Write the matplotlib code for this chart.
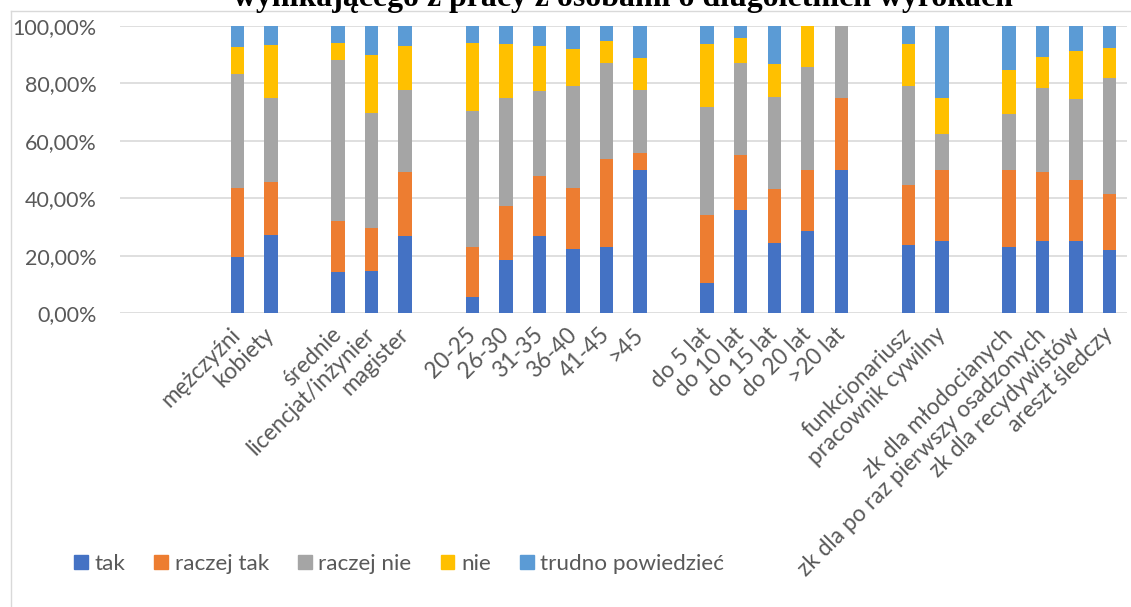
import numpy as np
import matplotlib.pyplot as plt
from matplotlib.lines import Line2D
from matplotlib.patches import Patch

plt.rcParams['font.family'] = ['Lato', 'DejaVu Sans']

# categories, grouped (one empty slot between groups, 3 empty slots before)
labels = ['mężczyźni', 'kobiety',
          'średnie', 'licencjat/inżynier', 'magister',
          '20-25', '26-30', '31-35', '36-40', '41-45', '>45',
          'do 5 lat', 'do 10 lat', 'do 15 lat', 'do 20 lat', '>20 lat',
          'funkcjonariusz', 'pracownik cywilny',
          'zk dla młodocianych', 'zk dla po raz pierwszy osadzonych',
          'zk dla recydywistów', 'areszt śledczy']
group_sizes = [2, 3, 6, 5, 2, 4]

series_names = ['tak', 'raczej tak', 'raczej nie', 'nie', 'trudno powiedzieć']
tak = [19.5, 27.3, 14.5, 14.8, 27.0, 5.6, 18.5, 27.0, 22.3, 22.9, 50.0,
       10.6, 36.0, 24.3, 28.6, 50.0, 23.7, 25.0, 23.1, 25.0, 25.0, 21.9]
raczej_tak = [24.0, 18.2, 17.5, 15.0, 22.0, 17.6, 18.9, 20.6, 21.2, 30.8, 5.6,
              23.6, 19.1, 18.9, 21.4, 25.0, 20.8, 25.0, 26.9, 24.2, 21.2, 19.5]
raczej_nie = [39.6, 29.5, 56.1, 39.9, 28.5, 47.2, 37.5, 29.6, 35.4, 33.2, 22.2,
              37.4, 31.9, 31.9, 35.7, 25.0, 34.6, 12.5, 19.2, 29.0, 28.4, 40.3]
nie = [9.5, 18.2, 5.9, 20.1, 15.3, 23.6, 18.6, 15.8, 13.0, 7.9, 11.1,
       22.0, 8.6, 11.7, 14.3, 0.0, 14.4, 12.5, 15.4, 10.9, 16.7, 10.4]
trudno = [7.4, 6.8, 6.0, 10.2, 7.2, 6.0, 6.5, 7.0, 8.1, 5.2, 11.1,
          6.4, 4.4, 13.2, 0.0, 0.0, 6.5, 25.0, 15.4, 10.9, 8.7, 7.9]
colors = ['#4472C4', '#ED7D31', '#A5A5A5', '#FFC000', '#5B9BD5']

title = 'wynikającego z pracy z osobami o długoletnich wyrokach'

W, H = 1131, 607
fig = plt.figure(figsize=(W/100, H/100), dpi=100)
ax = fig.add_axes([120/W, 1-313.3/H, (1126.5-120)/W, (313.3-25.7)/H])

# x positions with gaps between groups
pos = []
p = 3
for g in group_sizes:
    for i in range(g):
        pos.append(p)
        p += 1
    p += 1

bottom = np.zeros(len(labels))
for name, vals, c in zip(series_names, [tak, raczej_tak, raczej_nie, nie, trudno], colors):
    v = np.array(vals) / 100
    ax.bar(pos, v, width=0.4, bottom=bottom, color=c, linewidth=0, label=name, zorder=2)
    bottom += v

ax.set_xlim(-0.5, 29.5)
ax.set_ylim(0, 1)
yt = np.arange(0, 1.01, 0.2)
ax.set_yticks(yt)
ax.set_yticklabels([('%.2f%%' % (t*100)).replace('.', ',') for t in yt])
ax.yaxis.grid(True, color='#D9D9D9', linewidth=1.2, zorder=0)
ax.set_axisbelow(True)
for s in ax.spines.values():
    s.set_visible(False)
ax.tick_params(axis='y', length=0, pad=17, labelsize=15.5, labelcolor='#595959')
ax.tick_params(axis='x', length=0, pad=13, labelsize=16.3, labelcolor='#595959')
ax.set_xticks(pos)
ax.set_xticklabels(labels, rotation=45, ha='right', va='center', rotation_mode='anchor')

# chart area border (cropped)
fig.add_artist(Line2D([10.5/W, 10.5/W], [0, 1-11/H], transform=fig.transFigure, color='#D9D9D9', lw=1))
fig.add_artist(Line2D([10.5/W, 1], [1-11/H, 1-11/H], transform=fig.transFigure, color='#D9D9D9', lw=1))

# title, cut off at the top as in the source
t = fig.text(623/W, 1-6/H, title, family='Liberation Serif', weight='bold',
             fontsize=20, ha='center', va='baseline')
fig.canvas.draw()
w = t.get_window_extent().width
t.set_fontsize(20*780/w)

handles = [Patch(color=c) for c in colors]
fig.legend(handles, series_names, loc='center left', bbox_to_anchor=(74/W, 1-564/H),
           ncol=5, frameon=False, fontsize=16.2, labelcolor='#595959',
           handlelength=0.6, handleheight=0.6, handletextpad=0.3,
           columnspacing=1.3, borderpad=0, borderaxespad=0)

fig.savefig('out.png', dpi=100)
